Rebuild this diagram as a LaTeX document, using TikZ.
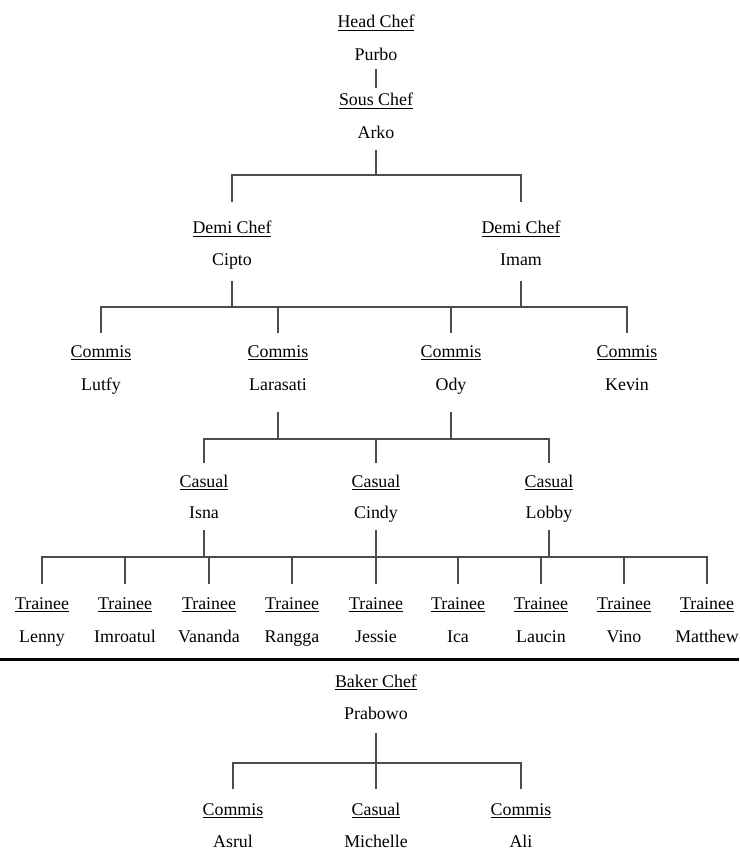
\documentclass[tikz,border=0pt]{standalone}
\usepackage{fontspec}
\setmainfont{Liberation Serif}
\begin{document}
\begin{tikzpicture}[x=0.75pt,y=-0.75pt,
  tx/.style={anchor=base,inner sep=0pt,outer sep=0pt,font=\fontsize{13.4}{15}\selectfont,text=black},
  role/.style={tx,text height=18pt,text depth=3pt},
  who/.style={tx,text height=9pt,text depth=10.5pt},
  link/.style={draw=black!70,line width=1.05pt},
  sep/.style={draw=black,line width=2.25pt},
]
\useasboundingbox (0,0) rectangle (739,855);

% --- top levels
\node[role,text height=9pt] (hcT) at (376,28) {\underline{Head Chef}};
\node[who,text depth=6pt] (purbo) at (376,61) {Purbo};
\node[role,text height=13.5pt] (scT) at (376,106) {\underline{Sous Chef}};
\node[who,text depth=8.25pt] (arko) at (376,139) {Arko};
\draw[link] (purbo.south) -- (scT.north);

% --- demi chefs
\coordinate (b1) at (376,175);
\node[role,text height=24pt] (dcT1) at (232,234) {\underline{Demi Chef}};
\node[who,text depth=11.25pt] (cipto) at (232,266) {Cipto};
\node[role,text height=24pt] (dcT2) at (521,234) {\underline{Demi Chef}};
\node[who,text depth=11.25pt] (imam) at (521,266) {Imam};
\draw[link] (arko.south) -- (arko.south |- b1);
\draw[link] (dcT1.north) |- (b1) -| (dcT2.north);

% --- commis
\coordinate (b2) at (376,307);
\node[role] (cmT1) at (101,357) {\underline{Commis}};
\node[who,text depth=16.5pt] (lutfy) at (101,390) {Lutfy};
\node[role] (cmT2) at (278,357) {\underline{Commis}};
\node[who,text depth=16.5pt] (larasati) at (278,390) {Larasati};
\node[role] (cmT3) at (451,357) {\underline{Commis}};
\node[who,text depth=16.5pt] (ody) at (451,390) {Ody};
\node[role] (cmT4) at (627,357) {\underline{Commis}};
\node[who,text depth=16.5pt] (kevin) at (627,390) {Kevin};
\draw[link] (cipto.south) -- (cipto.south |- b2);
\draw[link] (imam.south) -- (imam.south |- b2);
\draw[link] (cmT1.north) |- (b2) -| (cmT4.north);
\draw[link] (cmT2.north) -- (cmT2.north |- b2);
\draw[link] (cmT3.north) -- (cmT3.north |- b2);

% --- casuals
\coordinate (b3) at (376,439);
\node[role] (csT1) at (204,487) {\underline{Casual}};
\node[who,text depth=9pt] (isna) at (204,518) {Isna};
\node[role] (csT2) at (376,487) {\underline{Casual}};
\node[who,text depth=9pt] (cindy) at (376,518) {Cindy};
\node[role] (csT3) at (549,487) {\underline{Casual}};
\node[who,text depth=9pt] (lobby) at (549,518) {Lobby};
\draw[link] (larasati.south) -- (larasati.south |- b3);
\draw[link] (ody.south) -- (ody.south |- b3);
\draw[link] (csT1.north) |- (b3) -| (csT3.north);
\draw[link] (csT2.north) -- (csT2.north |- b3);

% --- trainees
\coordinate (b4) at (376,557);
\foreach \x/\n/\nm in {42/t1/Lenny,125/t2/Imroatul,209/t3/Vananda,292/t4/Rangga,376/t5/Jessie,458/t6/Ica,541/t7/Laucin,624/t8/Vino,707/t9/Matthew}{
  \node[role,text height=18.75pt] (\n T) at (\x,609) {\underline{Trainee}};
  \node[who] (\n) at (\x,642) {\nm};
}
\draw[link] (isna.south) -- (isna.south |- b4);
\draw[link] (lobby.south) -- (lobby.south |- b4);
\draw[link] (cindy.south) -- (t5T.north);
\draw[link] (t1T.north) |- (b4) -| (t9T.north);
\foreach \n in {t2,t3,t4,t6,t7,t8}{
  \draw[link] (\n T.north) -- (\n T.north |- b4);
}

% --- separator
\coordinate (sepL) at (0,659);
\coordinate (sepR) at (739,659);
\draw[sep] (sepL) -- (sepR);

% --- bakery
\node[role] (bkT) at (376,687) {\underline{Baker Chef}};
\node[who] (prabowo) at (376,719) {Prabowo};
\coordinate (b5) at (376,763);
\node[role,text height=19.5pt] (bcT1) at (233,815) {\underline{Commis}};
\node[who] (asrul) at (233,847) {Asrul};
\node[role,text height=19.5pt] (bcT2) at (376,815) {\underline{Casual}};
\node[who] (michelle) at (376,847) {Michelle};
\node[role,text height=19.5pt] (bcT3) at (521,815) {\underline{Commis}};
\node[who] (ali) at (521,847) {Ali};
\draw[link] (prabowo.south) -- (bcT2.north);
\draw[link] (bcT1.north) |- (b5) -| (bcT3.north);
\end{tikzpicture}
\end{document}
